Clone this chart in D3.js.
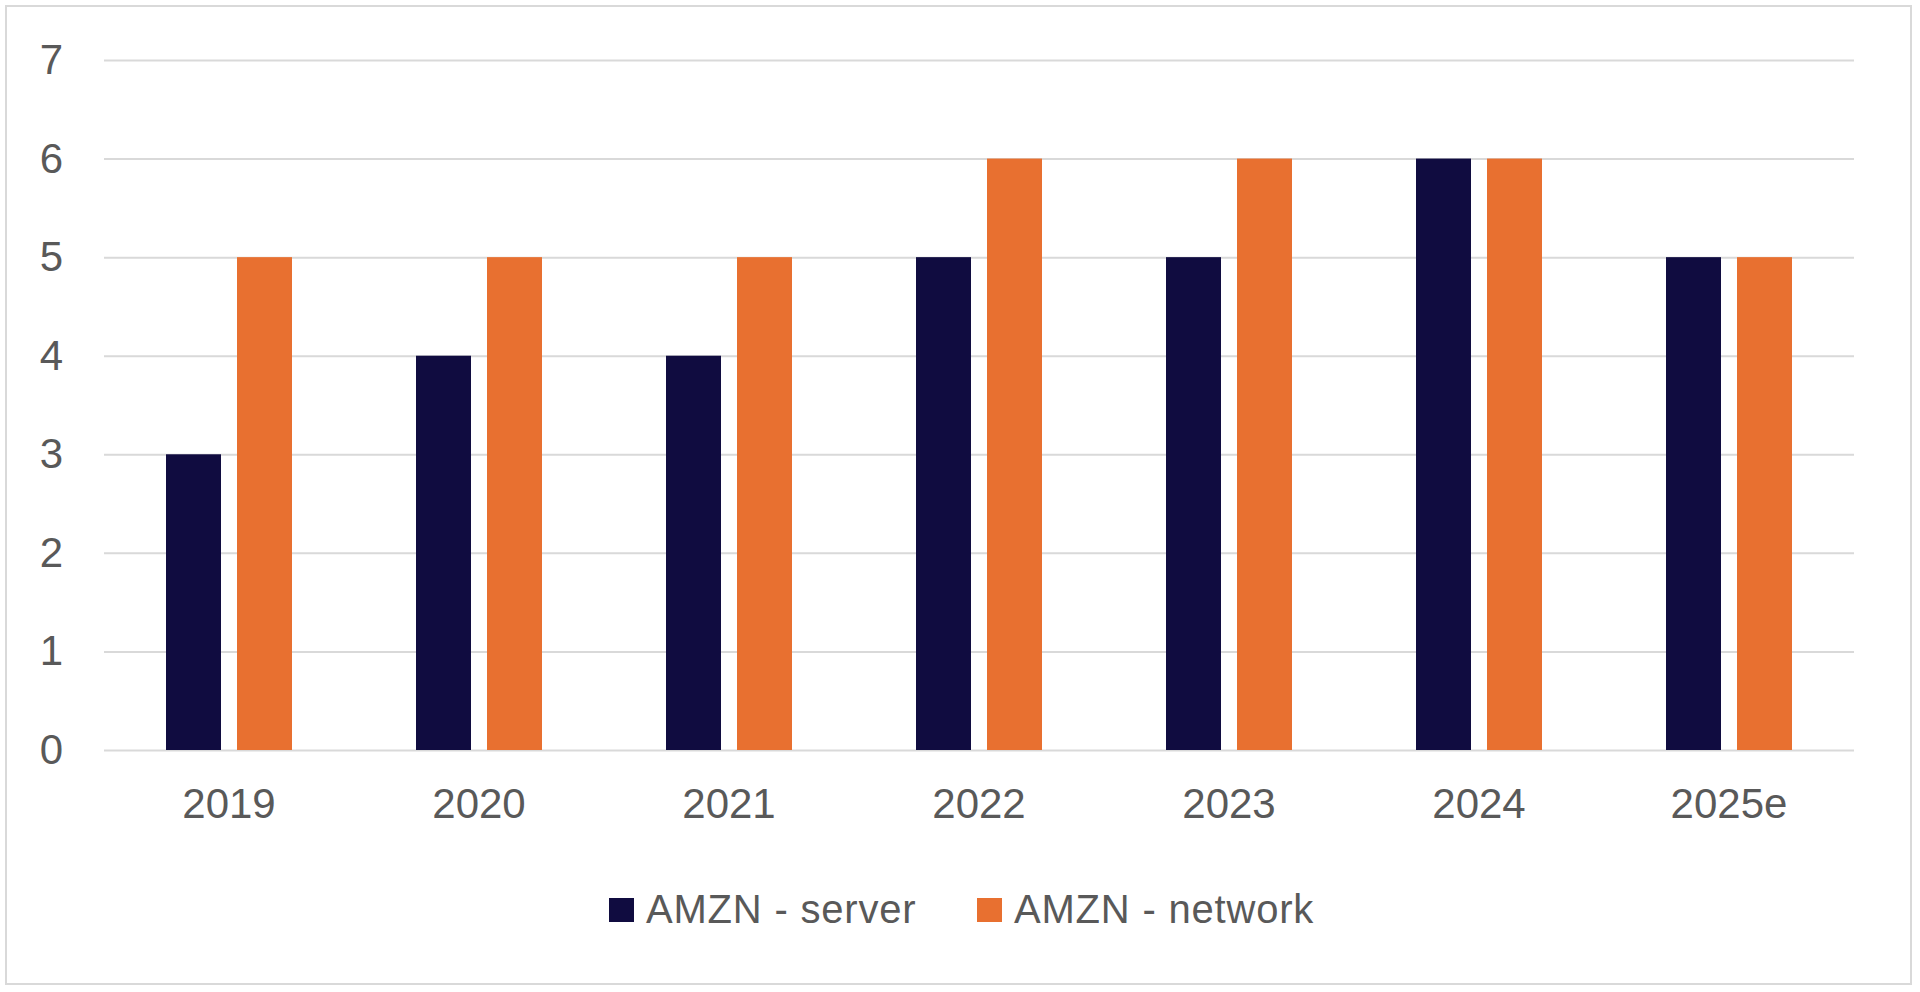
<!DOCTYPE html>
<html>
<head>
<meta charset="utf-8">
<script src="https://cdn.jsdelivr.net/npm/d3@7"></script>
<style>
  html, body { margin: 0; padding: 0; background: #fff; }
  svg { display: block; }
</style>
</head>
<body>
<div id="chart"></div>
<script>
/* data */
var years   = ['2019', '2020', '2021', '2022', '2023', '2024', '2025e'];
var series  = ['AMZN - server', 'AMZN - network'];
var server  = [3, 4, 4, 5, 5, 6, 5];
var network = [5, 5, 5, 6, 6, 6, 5];
var yTicks  = [0, 1, 2, 3, 4, 5, 6, 7];

var colors = ['#100c40', '#e87030'];
var values = [server, network];

var W = 1920, H = 992;
var pL = 104, pR = 1854, pT = 60, pB = 750;   /* plot area */
var font = '"Liberation Sans", Arial, sans-serif';

var svg = d3.select('#chart').append('svg')
  .attr('width', W).attr('height', H);

/* ── outer frame ── */
svg.append('rect')
  .attr('x', 6).attr('y', 6)
  .attr('width', 1905).attr('height', 978)
  .attr('fill', '#fff')
  .attr('stroke', '#d9d9d9').attr('stroke-width', 2);

var x0 = d3.scaleBand().domain(years).range([pL, pR])
  .paddingInner(0.496).paddingOuter(0.248);
var x1 = d3.scaleBand().domain(series).range([0, x0.bandwidth()])
  .paddingInner(0.2254).paddingOuter(0);
var y = d3.scaleLinear().domain([0, 7]).range([pB, pT]);

/* ── gridlines + y labels ── */
var yAxis = d3.axisLeft(y).tickValues(yTicks).tickFormat(d3.format('d'))
  .tickSize(-(pR - pL)).tickPadding(41);
var gy = svg.append('g').attr('transform', 'translate(' + pL + ',0)').call(yAxis);
gy.select('.domain').remove();
gy.selectAll('.tick line').attr('stroke', '#d9d9d9').attr('stroke-width', 2);
gy.selectAll('.tick text')
  .attr('font-family', font).attr('font-size', 42).attr('fill', '#595959');

/* ── bars ── */
var groups = svg.append('g').selectAll('g')
  .data(years).join('g')
  .attr('transform', function (d) { return 'translate(' + x0(d) + ',0)'; });

groups.selectAll('rect')
  .data(function (d, i) {
    return series.map(function (s, si) { return { s: s, v: values[si][i], c: colors[si] }; });
  })
  .join('rect')
  .attr('x', function (d) { return x1(d.s); })
  .attr('width', x1.bandwidth())
  .attr('y', function (d) { return y(d.v); })
  .attr('height', function (d) { return y(0) - y(d.v); })
  .attr('fill', function (d) { return d.c; });

/* ── x labels ── */
var xAxis = d3.axisBottom(x0).tickSize(0).tickPadding(38);
var gx = svg.append('g').attr('transform', 'translate(0,' + pB + ')').call(xAxis);
gx.select('.domain').remove();
gx.selectAll('.tick text')
  .attr('font-family', font).attr('font-size', 42).attr('fill', '#595959');

/* ── legend ── */
var legX = [609, 977];
var leg = svg.append('g').selectAll('g')
  .data(series).join('g')
  .attr('transform', function (d, i) { return 'translate(' + legX[i] + ',898)'; });
leg.append('rect')
  .attr('width', 25).attr('height', 24)
  .attr('fill', function (d, i) { return colors[i]; });
leg.append('text')
  .attr('x', 37).attr('y', 25)
  .attr('font-family', font).attr('font-size', 40).attr('fill', '#595959')
  .attr('letter-spacing', 0.8)
  .text(function (d) { return d; });
</script>
</body>
</html>
